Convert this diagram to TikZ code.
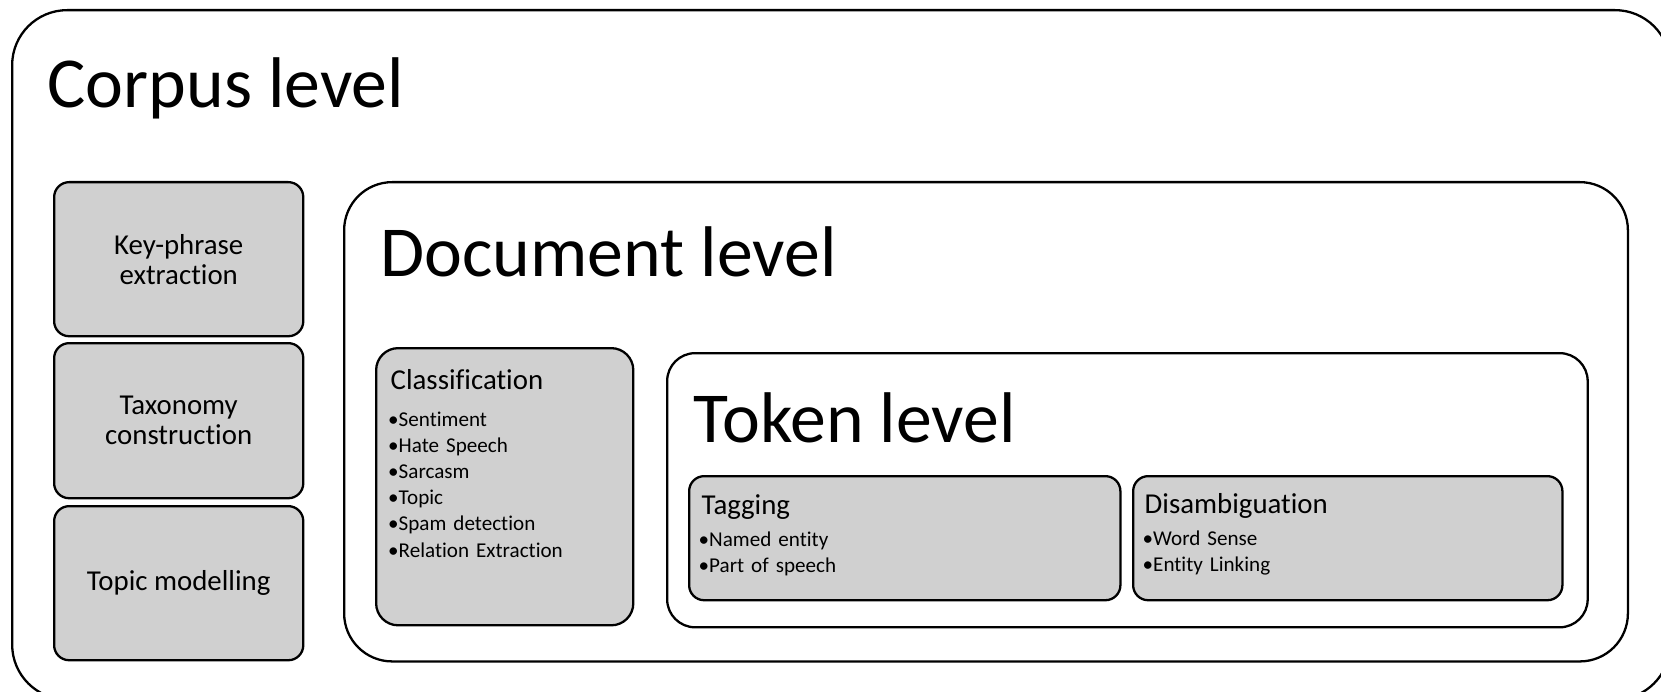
\documentclass[tikz,border=0pt]{standalone}
\usepackage{fontspec}
\setmainfont{Carlito}[Ligatures=NoCommon]
\definecolor{boxgray}{RGB}{208,208,208}
\tikzset{
  levelbox/.style={draw,line width=0.65pt,rounded corners=#1,anchor=north west,inner sep=0pt},
  levelbox/.default=0.5cm,
  taskbox/.style={draw,line width=0.65pt,fill=boxgray,rounded corners=#1,anchor=north west,inner sep=0pt},
  taskbox/.default=0.15cm,
  leveltitle/.style={anchor=base west,inner sep=0pt,font=\fontsize{20.4}{24}\selectfont},
  taskhead/.style={anchor=base west,inner sep=0pt,font=\fontsize{8.2}{10}\selectfont},
  tasklist/.style={anchor=base west,inner sep=0pt,text width=3cm,align=left,font=\fontsize{6}{7.45}\selectfont},
  tasktext/.style={align=center,font=\fontsize{8.2}{8.5}\selectfont}
}
\begin{document}
\begin{tikzpicture}[x=0.01cm,y=-0.01cm]
    \clip (0,0) rectangle (1661,691);
    % corpus level
    \node[levelbox=0.55cm,minimum width=16.57cm,minimum height=6.89cm] (corpus) at (11,9) {};
    \node[leveltitle] (corpustitle) at (47,108) {Corpus level};
    \node[taskbox,tasktext,minimum width=2.49cm,minimum height=1.54cm] (keyphrase) at (53,181) {Key-phrase\\extraction};
    \node[taskbox,tasktext,minimum width=2.49cm,minimum height=1.55cm] (taxonomy) at (53,342) {Taxonomy\\construction};
    \node[taskbox,tasktext,minimum width=2.49cm,minimum height=1.54cm] (topicmod) at (53,505) {Topic modelling};
    % document level
    \node[levelbox=0.48cm,minimum width=12.83cm,minimum height=4.79cm] (document) at (343,181) {};
    \node[leveltitle] (documenttitle) at (380,276) {Document level};
    \node[taskbox=0.22cm,minimum width=2.57cm,minimum height=2.77cm] (classif) at (375,347) {};
    \node[taskhead] (classifhead) at (390,389) {Classification};
    \node[tasklist] (classiflist) at (387.5,426) {•Sentiment\\•Hate Speech\\•Sarcasm\\•Topic\\•Spam detection\\•Relation Extraction};
    % token level
    \node[levelbox=0.28cm,minimum width=9.20cm,minimum height=2.74cm] (token) at (666,352) {};
    \node[leveltitle] (tokentitle) at (693,442) {Token level};
    \node[taskbox,minimum width=4.31cm,minimum height=1.24cm] (tagging) at (688,475) {};
    \node[taskhead] (tagginghead) at (701,514) {Tagging};
    \node[tasklist] (tagginglist) at (698,546) {•Named entity\\•Part of speech};
    \node[taskbox,minimum width=4.29cm,minimum height=1.24cm] (disamb) at (1132,475) {};
    \node[taskhead] (disambhead) at (1144,513) {Disambiguation};
    \node[tasklist] (disamblist) at (1142,545) {•Word Sense\\•Entity Linking};
\end{tikzpicture}
\end{document}
